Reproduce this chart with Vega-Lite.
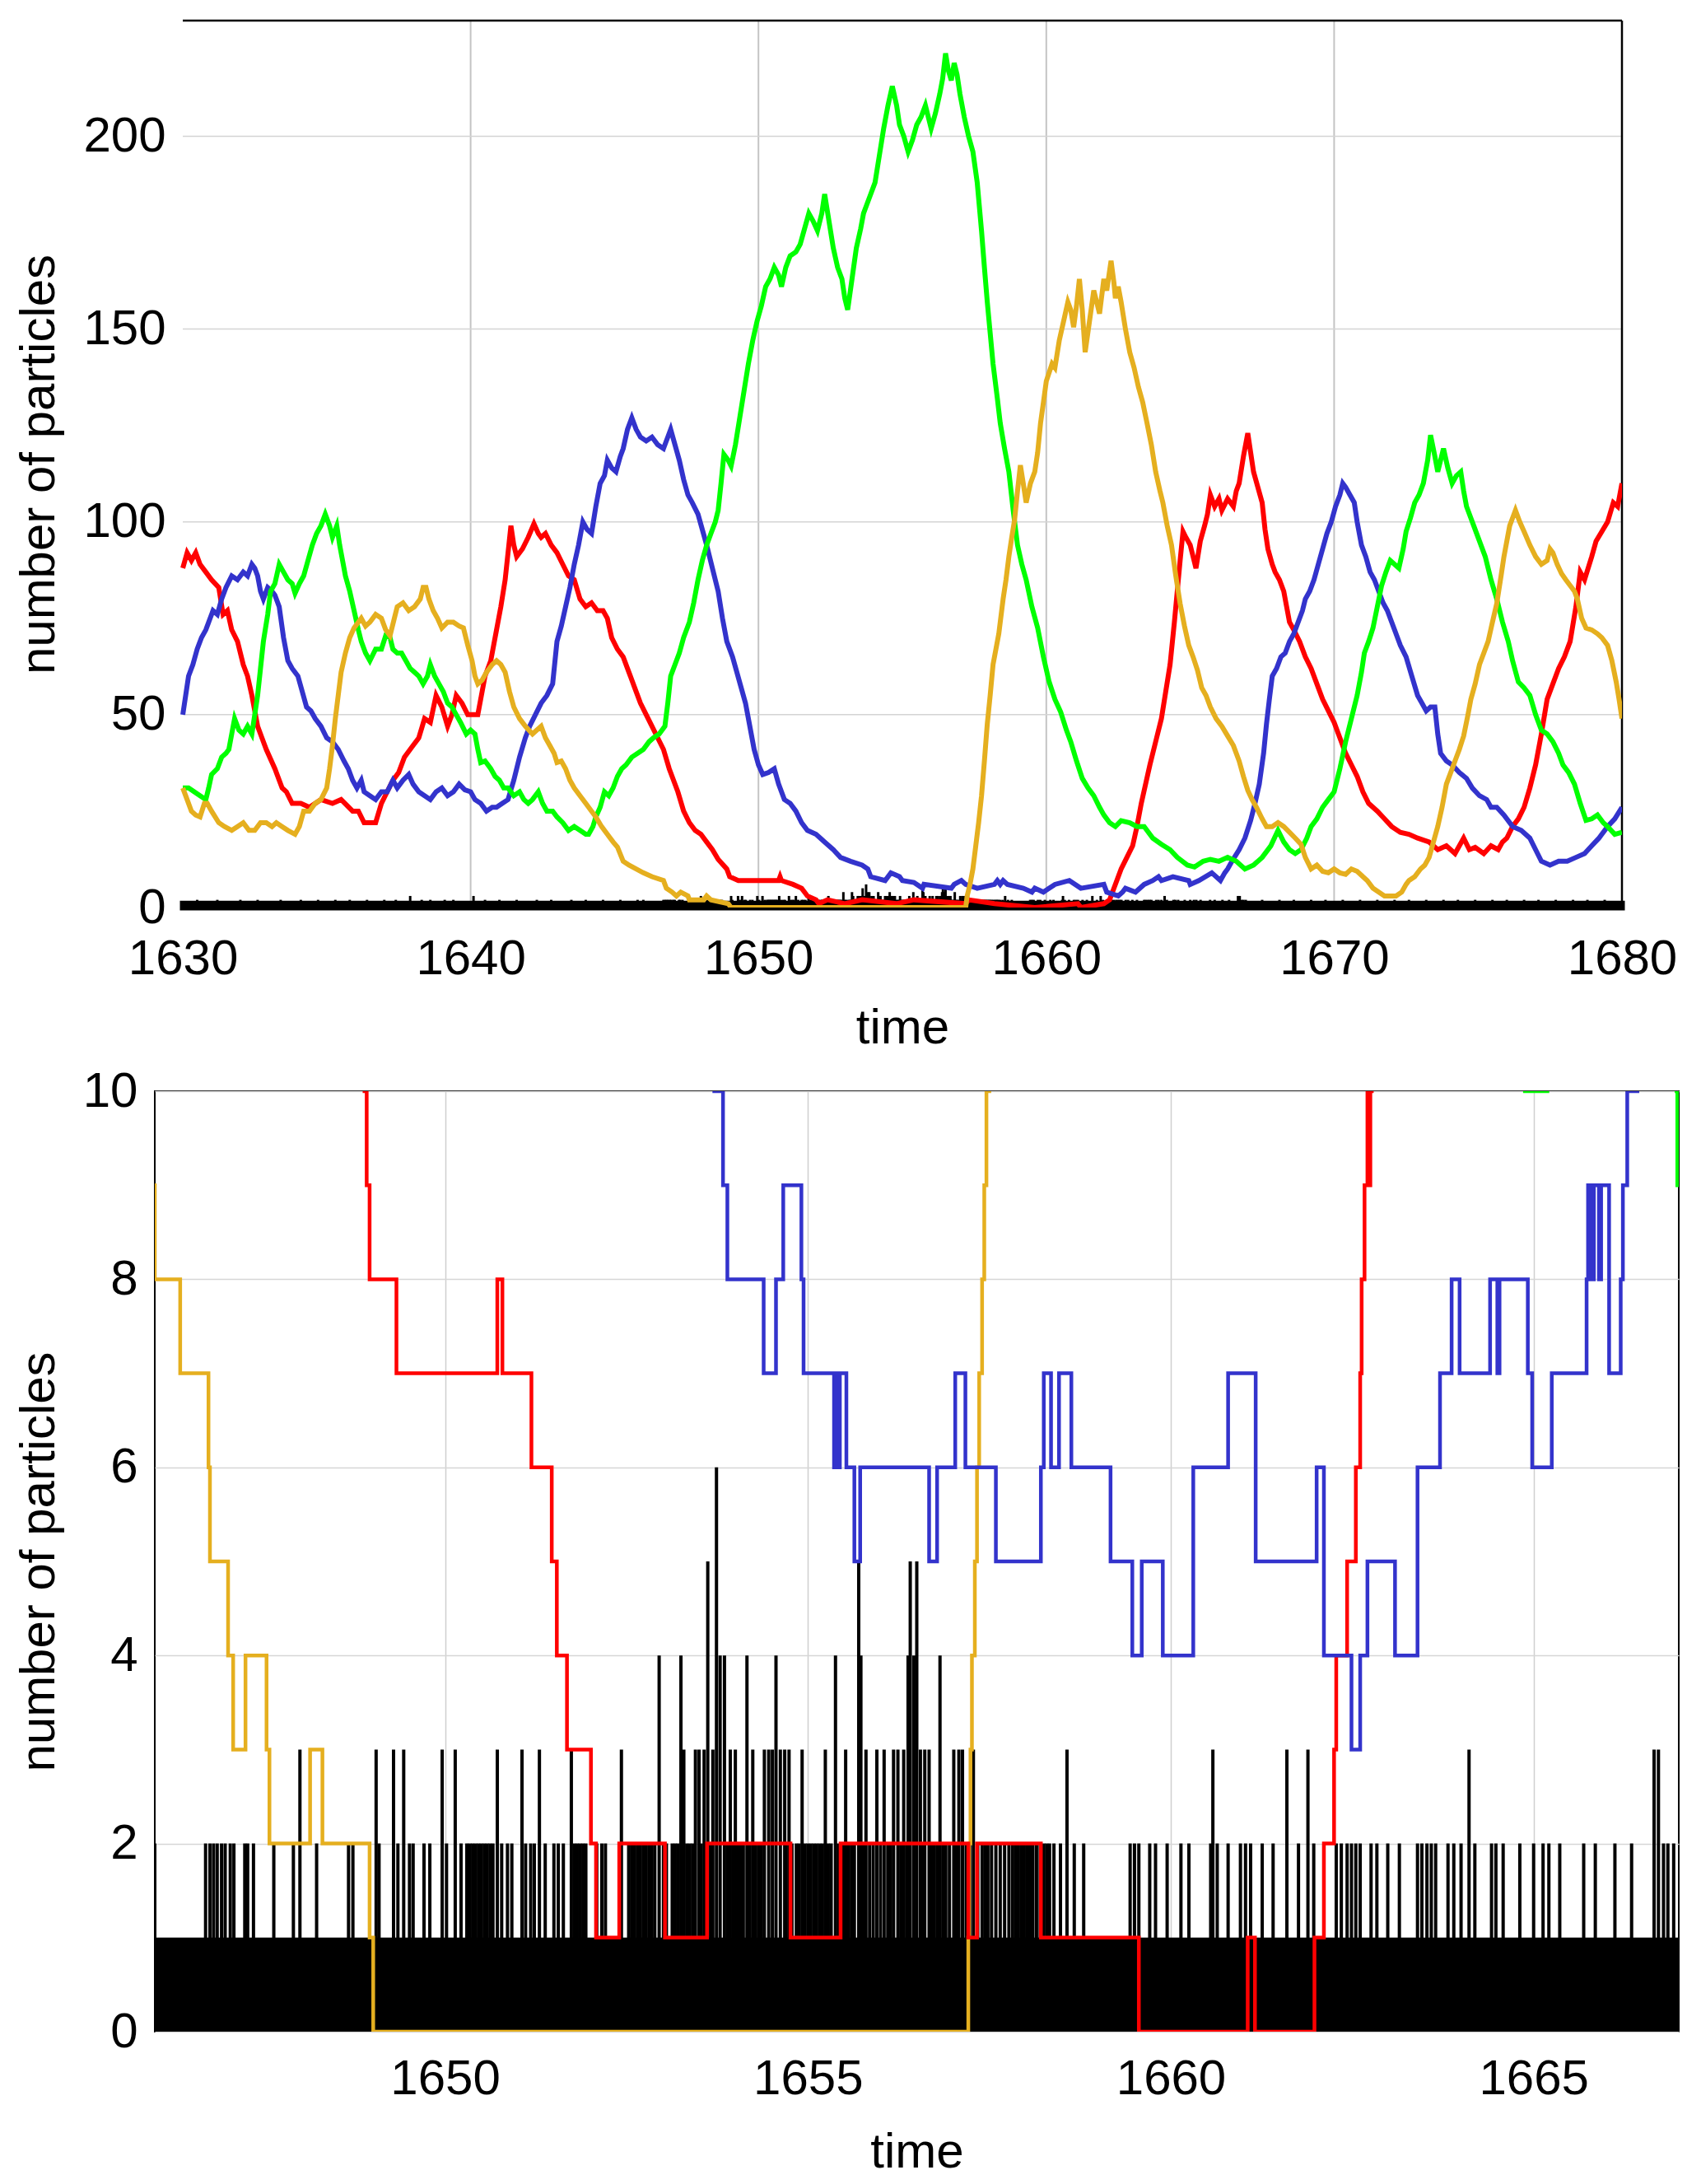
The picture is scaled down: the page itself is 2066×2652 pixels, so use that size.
{
"$schema": "https://vega.github.io/schema/vega-lite/v6.json",
"background": "white",
"padding": {"left": 16, "top": 23, "right": 20, "bottom": 0},
"config": {
  "font": "Liberation Sans",
  "view": {"stroke": "#000000", "strokeWidth": 2},
  "axis": {"labelFont": "Liberation Sans", "titleFont": "Liberation Sans", "labelFontSize": 60, "titleFontSize": 60, "titleFontWeight": "normal", "labelColor": "#000000", "titleColor": "#000000", "domain": false, "ticks": false, "gridColor": "#cccccc", "gridWidth": 1.5, "labelFlush": false, "labelOverlap": false},
  "axisX": {"labelPadding": 28, "titlePadding": 30},
  "axisY": {"labelPadding": 21, "titlePadding": 22}
},
"datasets": {
  "base": [{"t": 1630, "v": 1}, {"t": 1680, "v": 1}],
  "xgrid": [{"g": 1640}, {"g": 1650}, {"g": 1660}, {"g": 1670}],
  "ygrid": [{"g": 50}, {"g": 100}, {"g": 150}, {"g": 200}],
  "top": [
{"s":"red","t":1630,"v":88},{"s":"red","t":1630.15,"v":92},{"s":"red","t":1630.3,"v":90},{"s":"red","t":1630.45,"v":92},{"s":"red","t":1630.6,"v":89},{"s":"red","t":1630.8,"v":87},{"s":"red","t":1631,"v":85},{"s":"red","t":1631.25,"v":83},{"s":"red","t":1631.4,"v":76},{"s":"red","t":1631.55,"v":77},{"s":"red","t":1631.7,"v":72},{"s":"red","t":1631.9,"v":69},{"s":"red","t":1632.1,"v":63},{"s":"red","t":1632.25,"v":60},{"s":"red","t":1632.4,"v":55},{"s":"red","t":1632.6,"v":47},{"s":"red","t":1632.75,"v":44},{"s":"red","t":1632.9,"v":41},{"s":"red","t":1633.2,"v":36},{"s":"red","t":1633.45,"v":31},{"s":"red","t":1633.6,"v":30},{"s":"red","t":1633.8,"v":27},{"s":"red","t":1634.1,"v":27},{"s":"red","t":1634.4,"v":26},{"s":"red","t":1634.8,"v":28},{"s":"red","t":1635.2,"v":27},{"s":"red","t":1635.5,"v":28},{"s":"red","t":1635.9,"v":25},{"s":"red","t":1636.1,"v":25},{"s":"red","t":1636.3,"v":22},{"s":"red","t":1636.7,"v":22},{"s":"red","t":1636.9,"v":27},{"s":"red","t":1637.1,"v":30},{"s":"red","t":1637.3,"v":33},{"s":"red","t":1637.5,"v":35},{"s":"red","t":1637.7,"v":39},{"s":"red","t":1638,"v":42},{"s":"red","t":1638.2,"v":44},{"s":"red","t":1638.4,"v":49},{"s":"red","t":1638.6,"v":48},{"s":"red","t":1638.8,"v":55},{"s":"red","t":1639,"v":52},{"s":"red","t":1639.2,"v":47},{"s":"red","t":1639.35,"v":50},{"s":"red","t":1639.5,"v":55},{"s":"red","t":1639.7,"v":53},{"s":"red","t":1639.9,"v":50},{"s":"red","t":1640.25,"v":50},{"s":"red","t":1640.5,"v":60},{"s":"red","t":1640.7,"v":64},{"s":"red","t":1640.9,"v":72},{"s":"red","t":1641.05,"v":78},{"s":"red","t":1641.2,"v":85},{"s":"red","t":1641.4,"v":99},{"s":"red","t":1641.5,"v":94},{"s":"red","t":1641.6,"v":91},{"s":"red","t":1641.8,"v":93},{"s":"red","t":1642,"v":96},{"s":"red","t":1642.2,"v":99.5},{"s":"red","t":1642.35,"v":97},{"s":"red","t":1642.45,"v":96},{"s":"red","t":1642.6,"v":97},{"s":"red","t":1642.8,"v":94},{"s":"red","t":1643,"v":92},{"s":"red","t":1643.2,"v":89},{"s":"red","t":1643.4,"v":86},{"s":"red","t":1643.6,"v":85},{"s":"red","t":1643.8,"v":80},{"s":"red","t":1644,"v":78},{"s":"red","t":1644.2,"v":79},{"s":"red","t":1644.4,"v":77},{"s":"red","t":1644.6,"v":77},{"s":"red","t":1644.75,"v":75},{"s":"red","t":1644.9,"v":70},{"s":"red","t":1645.1,"v":67},{"s":"red","t":1645.3,"v":65},{"s":"red","t":1645.5,"v":61},{"s":"red","t":1645.7,"v":57},{"s":"red","t":1645.9,"v":53},{"s":"red","t":1646.1,"v":50},{"s":"red","t":1646.3,"v":47},{"s":"red","t":1646.5,"v":44},{"s":"red","t":1646.7,"v":41},{"s":"red","t":1646.9,"v":36},{"s":"red","t":1647.05,"v":33},{"s":"red","t":1647.2,"v":30},{"s":"red","t":1647.4,"v":25},{"s":"red","t":1647.6,"v":22},{"s":"red","t":1647.8,"v":20},{"s":"red","t":1648,"v":19},{"s":"red","t":1648.2,"v":17},{"s":"red","t":1648.4,"v":15},{"s":"red","t":1648.6,"v":12.5},{"s":"red","t":1648.9,"v":10},{"s":"red","t":1649,"v":8},{"s":"red","t":1649.3,"v":7},{"s":"red","t":1650.7,"v":7},{"s":"red","t":1650.75,"v":8},{"s":"red","t":1650.8,"v":7},{"s":"red","t":1651.2,"v":6},{"s":"red","t":1651.5,"v":5},{"s":"red","t":1651.6,"v":4},{"s":"red","t":1651.7,"v":3},{"s":"red","t":1652,"v":2},{"s":"red","t":1652.1,"v":1},{"s":"red","t":1652.4,"v":2},{"s":"red","t":1653,"v":1},{"s":"red","t":1653.6,"v":2},{"s":"red","t":1654.8,"v":1},{"s":"red","t":1655.4,"v":2},{"s":"red","t":1657.2,"v":1},{"s":"red","t":1657.3,"v":2},{"s":"red","t":1658.2,"v":1},{"s":"red","t":1659.6,"v":0},{"s":"red","t":1661.1,"v":1},{"s":"red","t":1661.2,"v":0},{"s":"red","t":1662,"v":1},{"s":"red","t":1662.2,"v":2},{"s":"red","t":1662.3,"v":4},{"s":"red","t":1662.45,"v":7},{"s":"red","t":1662.6,"v":10},{"s":"red","t":1662.8,"v":13},{"s":"red","t":1663,"v":16},{"s":"red","t":1663.15,"v":21},{"s":"red","t":1663.3,"v":27},{"s":"red","t":1663.45,"v":32},{"s":"red","t":1663.6,"v":37},{"s":"red","t":1663.8,"v":43},{"s":"red","t":1664,"v":49},{"s":"red","t":1664.15,"v":56},{"s":"red","t":1664.3,"v":63},{"s":"red","t":1664.45,"v":74},{"s":"red","t":1664.55,"v":82},{"s":"red","t":1664.65,"v":90},{"s":"red","t":1664.75,"v":97.5},{"s":"red","t":1664.85,"v":96},{"s":"red","t":1665,"v":94},{"s":"red","t":1665.1,"v":91},{"s":"red","t":1665.2,"v":88},{"s":"red","t":1665.35,"v":95},{"s":"red","t":1665.5,"v":99},{"s":"red","t":1665.6,"v":102},{"s":"red","t":1665.7,"v":107},{"s":"red","t":1665.85,"v":104},{"s":"red","t":1666,"v":106},{"s":"red","t":1666.1,"v":103},{"s":"red","t":1666.3,"v":106},{"s":"red","t":1666.5,"v":104},{"s":"red","t":1666.6,"v":108},{"s":"red","t":1666.7,"v":110},{"s":"red","t":1666.85,"v":117},{"s":"red","t":1667,"v":123},{"s":"red","t":1667.1,"v":118},{"s":"red","t":1667.2,"v":113},{"s":"red","t":1667.35,"v":109},{"s":"red","t":1667.5,"v":105},{"s":"red","t":1667.6,"v":98},{"s":"red","t":1667.7,"v":93},{"s":"red","t":1667.85,"v":89},{"s":"red","t":1667.95,"v":87},{"s":"red","t":1668.1,"v":85},{"s":"red","t":1668.25,"v":82},{"s":"red","t":1668.35,"v":78},{"s":"red","t":1668.45,"v":74},{"s":"red","t":1668.6,"v":72},{"s":"red","t":1668.8,"v":69},{"s":"red","t":1669,"v":65},{"s":"red","t":1669.2,"v":62},{"s":"red","t":1669.4,"v":58},{"s":"red","t":1669.6,"v":54},{"s":"red","t":1669.8,"v":51},{"s":"red","t":1670,"v":48},{"s":"red","t":1670.2,"v":44},{"s":"red","t":1670.4,"v":40},{"s":"red","t":1670.6,"v":37},{"s":"red","t":1670.8,"v":34},{"s":"red","t":1671,"v":30},{"s":"red","t":1671.2,"v":27},{"s":"red","t":1671.5,"v":25},{"s":"red","t":1671.75,"v":23},{"s":"red","t":1672,"v":21},{"s":"red","t":1672.3,"v":19.5},{"s":"red","t":1672.6,"v":19},{"s":"red","t":1672.9,"v":18},{"s":"red","t":1673.3,"v":17},{"s":"red","t":1673.6,"v":15},{"s":"red","t":1673.9,"v":16},{"s":"red","t":1674.2,"v":14},{"s":"red","t":1674.5,"v":18},{"s":"red","t":1674.7,"v":15},{"s":"red","t":1674.9,"v":15.6},{"s":"red","t":1675.2,"v":14},{"s":"red","t":1675.45,"v":16},{"s":"red","t":1675.7,"v":15},{"s":"red","t":1675.85,"v":17},{"s":"red","t":1676,"v":18},{"s":"red","t":1676.2,"v":21},{"s":"red","t":1676.4,"v":23},{"s":"red","t":1676.6,"v":26},{"s":"red","t":1676.8,"v":31},{"s":"red","t":1677,"v":37},{"s":"red","t":1677.2,"v":45},{"s":"red","t":1677.4,"v":54},{"s":"red","t":1677.6,"v":58},{"s":"red","t":1677.8,"v":62},{"s":"red","t":1678,"v":65},{"s":"red","t":1678.2,"v":69},{"s":"red","t":1678.4,"v":78},{"s":"red","t":1678.55,"v":87},{"s":"red","t":1678.7,"v":85},{"s":"red","t":1678.95,"v":91},{"s":"red","t":1679.1,"v":95},{"s":"red","t":1679.3,"v":97.5},{"s":"red","t":1679.5,"v":100},{"s":"red","t":1679.7,"v":105},{"s":"red","t":1679.85,"v":104},{"s":"red","t":1680,"v":110},
{"s":"blue","t":1630,"v":50},{"s":"blue","t":1630.1,"v":55},{"s":"blue","t":1630.2,"v":60},{"s":"blue","t":1630.35,"v":63},{"s":"blue","t":1630.5,"v":67},{"s":"blue","t":1630.65,"v":70},{"s":"blue","t":1630.8,"v":72},{"s":"blue","t":1630.95,"v":75},{"s":"blue","t":1631.05,"v":77},{"s":"blue","t":1631.2,"v":76},{"s":"blue","t":1631.35,"v":80},{"s":"blue","t":1631.5,"v":83},{"s":"blue","t":1631.7,"v":86},{"s":"blue","t":1631.9,"v":85},{"s":"blue","t":1632.1,"v":87},{"s":"blue","t":1632.25,"v":86},{"s":"blue","t":1632.4,"v":89},{"s":"blue","t":1632.5,"v":88},{"s":"blue","t":1632.6,"v":86},{"s":"blue","t":1632.7,"v":82},{"s":"blue","t":1632.8,"v":80},{"s":"blue","t":1632.95,"v":83},{"s":"blue","t":1633.1,"v":82},{"s":"blue","t":1633.2,"v":81},{"s":"blue","t":1633.35,"v":78},{"s":"blue","t":1633.5,"v":70},{"s":"blue","t":1633.65,"v":64},{"s":"blue","t":1633.8,"v":62},{"s":"blue","t":1634,"v":60},{"s":"blue","t":1634.15,"v":56},{"s":"blue","t":1634.3,"v":52},{"s":"blue","t":1634.45,"v":51},{"s":"blue","t":1634.6,"v":49},{"s":"blue","t":1634.8,"v":47},{"s":"blue","t":1635,"v":44},{"s":"blue","t":1635.2,"v":43},{"s":"blue","t":1635.4,"v":41},{"s":"blue","t":1635.6,"v":38},{"s":"blue","t":1635.75,"v":36},{"s":"blue","t":1635.9,"v":33},{"s":"blue","t":1636.05,"v":31},{"s":"blue","t":1636.2,"v":33},{"s":"blue","t":1636.3,"v":30},{"s":"blue","t":1636.5,"v":29},{"s":"blue","t":1636.7,"v":28},{"s":"blue","t":1636.9,"v":30},{"s":"blue","t":1637.1,"v":30},{"s":"blue","t":1637.3,"v":33},{"s":"blue","t":1637.45,"v":31},{"s":"blue","t":1637.65,"v":33},{"s":"blue","t":1637.85,"v":34.5},{"s":"blue","t":1638,"v":32},{"s":"blue","t":1638.2,"v":30},{"s":"blue","t":1638.4,"v":29},{"s":"blue","t":1638.6,"v":28},{"s":"blue","t":1638.8,"v":30},{"s":"blue","t":1639,"v":31},{"s":"blue","t":1639.2,"v":29},{"s":"blue","t":1639.4,"v":30},{"s":"blue","t":1639.6,"v":32},{"s":"blue","t":1639.8,"v":30.5},{"s":"blue","t":1640,"v":30},{"s":"blue","t":1640.15,"v":28},{"s":"blue","t":1640.35,"v":27},{"s":"blue","t":1640.55,"v":25},{"s":"blue","t":1640.75,"v":26},{"s":"blue","t":1640.9,"v":26},{"s":"blue","t":1641.1,"v":27},{"s":"blue","t":1641.3,"v":28},{"s":"blue","t":1641.5,"v":33},{"s":"blue","t":1641.7,"v":39},{"s":"blue","t":1641.9,"v":44},{"s":"blue","t":1642.05,"v":47},{"s":"blue","t":1642.25,"v":50},{"s":"blue","t":1642.45,"v":53},{"s":"blue","t":1642.65,"v":55},{"s":"blue","t":1642.85,"v":58},{"s":"blue","t":1643,"v":69},{"s":"blue","t":1643.15,"v":73},{"s":"blue","t":1643.3,"v":78},{"s":"blue","t":1643.45,"v":83},{"s":"blue","t":1643.6,"v":89},{"s":"blue","t":1643.75,"v":94},{"s":"blue","t":1643.9,"v":100},{"s":"blue","t":1644.05,"v":98},{"s":"blue","t":1644.2,"v":97},{"s":"blue","t":1644.35,"v":104},{"s":"blue","t":1644.5,"v":110},{"s":"blue","t":1644.65,"v":112},{"s":"blue","t":1644.75,"v":116},{"s":"blue","t":1644.9,"v":114},{"s":"blue","t":1645.05,"v":113},{"s":"blue","t":1645.2,"v":117},{"s":"blue","t":1645.3,"v":119},{"s":"blue","t":1645.45,"v":124},{"s":"blue","t":1645.6,"v":127},{"s":"blue","t":1645.75,"v":124},{"s":"blue","t":1645.9,"v":122},{"s":"blue","t":1646.1,"v":121},{"s":"blue","t":1646.3,"v":122},{"s":"blue","t":1646.5,"v":120},{"s":"blue","t":1646.7,"v":119},{"s":"blue","t":1646.85,"v":122},{"s":"blue","t":1646.95,"v":124},{"s":"blue","t":1647.1,"v":120},{"s":"blue","t":1647.25,"v":116},{"s":"blue","t":1647.4,"v":111},{"s":"blue","t":1647.55,"v":107},{"s":"blue","t":1647.7,"v":105},{"s":"blue","t":1647.9,"v":102},{"s":"blue","t":1648.05,"v":98},{"s":"blue","t":1648.2,"v":94},{"s":"blue","t":1648.4,"v":88},{"s":"blue","t":1648.6,"v":82},{"s":"blue","t":1648.75,"v":75},{"s":"blue","t":1648.9,"v":69},{"s":"blue","t":1649.1,"v":65},{"s":"blue","t":1649.25,"v":61},{"s":"blue","t":1649.4,"v":57},{"s":"blue","t":1649.55,"v":53},{"s":"blue","t":1649.7,"v":47},{"s":"blue","t":1649.85,"v":41},{"s":"blue","t":1650,"v":37},{"s":"blue","t":1650.15,"v":34.5},{"s":"blue","t":1650.35,"v":35},{"s":"blue","t":1650.55,"v":36},{"s":"blue","t":1650.7,"v":32},{"s":"blue","t":1650.9,"v":28},{"s":"blue","t":1651.1,"v":27},{"s":"blue","t":1651.3,"v":25},{"s":"blue","t":1651.5,"v":22},{"s":"blue","t":1651.7,"v":20},{"s":"blue","t":1652,"v":19},{"s":"blue","t":1652.3,"v":17},{"s":"blue","t":1652.6,"v":15},{"s":"blue","t":1652.85,"v":13},{"s":"blue","t":1653.2,"v":12},{"s":"blue","t":1653.6,"v":11},{"s":"blue","t":1653.8,"v":10},{"s":"blue","t":1653.9,"v":8},{"s":"blue","t":1654.4,"v":7},{"s":"blue","t":1654.6,"v":9},{"s":"blue","t":1654.9,"v":8},{"s":"blue","t":1655,"v":7},{"s":"blue","t":1655.4,"v":6.5},{"s":"blue","t":1655.7,"v":5},{"s":"blue","t":1655.75,"v":6},{"s":"blue","t":1656.7,"v":5},{"s":"blue","t":1656.8,"v":6},{"s":"blue","t":1657.05,"v":7},{"s":"blue","t":1657.2,"v":6},{"s":"blue","t":1657.6,"v":5},{"s":"blue","t":1658.2,"v":6},{"s":"blue","t":1658.3,"v":7},{"s":"blue","t":1658.4,"v":6},{"s":"blue","t":1658.5,"v":7},{"s":"blue","t":1658.65,"v":6},{"s":"blue","t":1659.2,"v":5},{"s":"blue","t":1659.5,"v":4},{"s":"blue","t":1659.6,"v":5},{"s":"blue","t":1659.9,"v":4},{"s":"blue","t":1660.3,"v":6},{"s":"blue","t":1660.8,"v":7},{"s":"blue","t":1661.2,"v":5},{"s":"blue","t":1662,"v":6},{"s":"blue","t":1662.1,"v":4},{"s":"blue","t":1662.5,"v":3},{"s":"blue","t":1662.65,"v":4},{"s":"blue","t":1662.75,"v":5},{"s":"blue","t":1663.1,"v":4},{"s":"blue","t":1663.4,"v":6},{"s":"blue","t":1663.7,"v":7},{"s":"blue","t":1663.9,"v":8},{"s":"blue","t":1664,"v":7},{"s":"blue","t":1664.4,"v":8},{"s":"blue","t":1664.95,"v":7},{"s":"blue","t":1665,"v":6},{"s":"blue","t":1665.3,"v":7},{"s":"blue","t":1665.75,"v":9},{"s":"blue","t":1666.05,"v":7},{"s":"blue","t":1666.2,"v":9},{"s":"blue","t":1666.3,"v":10},{"s":"blue","t":1666.45,"v":12},{"s":"blue","t":1666.7,"v":15},{"s":"blue","t":1666.9,"v":18},{"s":"blue","t":1667.1,"v":22.6},{"s":"blue","t":1667.25,"v":27},{"s":"blue","t":1667.4,"v":32},{"s":"blue","t":1667.55,"v":40},{"s":"blue","t":1667.65,"v":47.6},{"s":"blue","t":1667.75,"v":54},{"s":"blue","t":1667.85,"v":60},{"s":"blue","t":1668,"v":62},{"s":"blue","t":1668.15,"v":65},{"s":"blue","t":1668.3,"v":66},{"s":"blue","t":1668.45,"v":69},{"s":"blue","t":1668.6,"v":71},{"s":"blue","t":1668.75,"v":74},{"s":"blue","t":1668.9,"v":77},{"s":"blue","t":1669,"v":80},{"s":"blue","t":1669.15,"v":82},{"s":"blue","t":1669.3,"v":85},{"s":"blue","t":1669.45,"v":89},{"s":"blue","t":1669.6,"v":93},{"s":"blue","t":1669.75,"v":97},{"s":"blue","t":1669.9,"v":100},{"s":"blue","t":1670.05,"v":104},{"s":"blue","t":1670.2,"v":107},{"s":"blue","t":1670.3,"v":110},{"s":"blue","t":1670.4,"v":109},{"s":"blue","t":1670.55,"v":107},{"s":"blue","t":1670.7,"v":105},{"s":"blue","t":1670.8,"v":100},{"s":"blue","t":1670.95,"v":94},{"s":"blue","t":1671.1,"v":91},{"s":"blue","t":1671.25,"v":87},{"s":"blue","t":1671.4,"v":85},{"s":"blue","t":1671.55,"v":82},{"s":"blue","t":1671.7,"v":79},{"s":"blue","t":1671.85,"v":77},{"s":"blue","t":1672,"v":74},{"s":"blue","t":1672.15,"v":71},{"s":"blue","t":1672.3,"v":68},{"s":"blue","t":1672.5,"v":65},{"s":"blue","t":1672.7,"v":60},{"s":"blue","t":1672.9,"v":55},{"s":"blue","t":1673.05,"v":53},{"s":"blue","t":1673.2,"v":51},{"s":"blue","t":1673.35,"v":52},{"s":"blue","t":1673.5,"v":52},{"s":"blue","t":1673.6,"v":45},{"s":"blue","t":1673.7,"v":40},{"s":"blue","t":1673.9,"v":38},{"s":"blue","t":1674.1,"v":37},{"s":"blue","t":1674.35,"v":35},{"s":"blue","t":1674.6,"v":33.5},{"s":"blue","t":1674.8,"v":31},{"s":"blue","t":1675.05,"v":29},{"s":"blue","t":1675.3,"v":28},{"s":"blue","t":1675.45,"v":26},{"s":"blue","t":1675.65,"v":26},{"s":"blue","t":1675.9,"v":24},{"s":"blue","t":1676.2,"v":21},{"s":"blue","t":1676.5,"v":20},{"s":"blue","t":1676.8,"v":18},{"s":"blue","t":1677,"v":15},{"s":"blue","t":1677.2,"v":12},{"s":"blue","t":1677.5,"v":11},{"s":"blue","t":1677.8,"v":12},{"s":"blue","t":1678.1,"v":12},{"s":"blue","t":1678.4,"v":13},{"s":"blue","t":1678.7,"v":14},{"s":"blue","t":1678.95,"v":16},{"s":"blue","t":1679.2,"v":18},{"s":"blue","t":1679.5,"v":21},{"s":"blue","t":1679.75,"v":23},{"s":"blue","t":1680,"v":26},
{"s":"green","t":1630,"v":31},{"s":"green","t":1630.2,"v":31},{"s":"green","t":1630.4,"v":30},{"s":"green","t":1630.6,"v":29},{"s":"green","t":1630.8,"v":28},{"s":"green","t":1630.9,"v":31},{"s":"green","t":1631,"v":34.5},{"s":"green","t":1631.2,"v":36},{"s":"green","t":1631.35,"v":39},{"s":"green","t":1631.5,"v":40},{"s":"green","t":1631.6,"v":41},{"s":"green","t":1631.7,"v":45},{"s":"green","t":1631.8,"v":49},{"s":"green","t":1631.95,"v":46},{"s":"green","t":1632.1,"v":45},{"s":"green","t":1632.25,"v":47},{"s":"green","t":1632.4,"v":45},{"s":"green","t":1632.5,"v":50},{"s":"green","t":1632.6,"v":55},{"s":"green","t":1632.7,"v":62},{"s":"green","t":1632.8,"v":69},{"s":"green","t":1632.95,"v":76},{"s":"green","t":1633.05,"v":82},{"s":"green","t":1633.2,"v":84},{"s":"green","t":1633.35,"v":89},{"s":"green","t":1633.5,"v":87},{"s":"green","t":1633.65,"v":85},{"s":"green","t":1633.8,"v":84},{"s":"green","t":1633.9,"v":81.5},{"s":"green","t":1634.05,"v":84},{"s":"green","t":1634.2,"v":86},{"s":"green","t":1634.35,"v":90},{"s":"green","t":1634.5,"v":94},{"s":"green","t":1634.65,"v":97},{"s":"green","t":1634.8,"v":99},{"s":"green","t":1634.95,"v":102},{"s":"green","t":1635.1,"v":99},{"s":"green","t":1635.2,"v":96},{"s":"green","t":1635.35,"v":99},{"s":"green","t":1635.45,"v":94},{"s":"green","t":1635.55,"v":90},{"s":"green","t":1635.65,"v":86},{"s":"green","t":1635.8,"v":82},{"s":"green","t":1635.95,"v":77},{"s":"green","t":1636.1,"v":72},{"s":"green","t":1636.2,"v":69},{"s":"green","t":1636.35,"v":66},{"s":"green","t":1636.5,"v":64},{"s":"green","t":1636.7,"v":67},{"s":"green","t":1636.9,"v":67},{"s":"green","t":1637.05,"v":70.5},{"s":"green","t":1637.2,"v":70},{"s":"green","t":1637.3,"v":67},{"s":"green","t":1637.45,"v":66},{"s":"green","t":1637.6,"v":66},{"s":"green","t":1637.75,"v":64},{"s":"green","t":1637.9,"v":62},{"s":"green","t":1638.05,"v":61},{"s":"green","t":1638.2,"v":60},{"s":"green","t":1638.35,"v":58},{"s":"green","t":1638.5,"v":60},{"s":"green","t":1638.6,"v":63},{"s":"green","t":1638.75,"v":60},{"s":"green","t":1638.9,"v":58},{"s":"green","t":1639.05,"v":56},{"s":"green","t":1639.2,"v":53},{"s":"green","t":1639.35,"v":52},{"s":"green","t":1639.5,"v":50},{"s":"green","t":1639.65,"v":48},{"s":"green","t":1639.85,"v":45},{"s":"green","t":1640,"v":46},{"s":"green","t":1640.15,"v":45},{"s":"green","t":1640.25,"v":41},{"s":"green","t":1640.35,"v":37.6},{"s":"green","t":1640.5,"v":38},{"s":"green","t":1640.7,"v":36},{"s":"green","t":1640.85,"v":34},{"s":"green","t":1641,"v":33},{"s":"green","t":1641.15,"v":31},{"s":"green","t":1641.3,"v":31},{"s":"green","t":1641.5,"v":29},{"s":"green","t":1641.7,"v":30},{"s":"green","t":1641.85,"v":28},{"s":"green","t":1642,"v":27},{"s":"green","t":1642.15,"v":28},{"s":"green","t":1642.35,"v":30},{"s":"green","t":1642.5,"v":27},{"s":"green","t":1642.65,"v":25},{"s":"green","t":1642.85,"v":25},{"s":"green","t":1643,"v":23.5},{"s":"green","t":1643.2,"v":22},{"s":"green","t":1643.4,"v":20},{"s":"green","t":1643.6,"v":21},{"s":"green","t":1643.8,"v":20},{"s":"green","t":1644,"v":19},{"s":"green","t":1644.1,"v":19},{"s":"green","t":1644.25,"v":21},{"s":"green","t":1644.35,"v":23.5},{"s":"green","t":1644.5,"v":26},{"s":"green","t":1644.65,"v":30},{"s":"green","t":1644.8,"v":29},{"s":"green","t":1644.95,"v":31},{"s":"green","t":1645.1,"v":34},{"s":"green","t":1645.25,"v":36},{"s":"green","t":1645.4,"v":37},{"s":"green","t":1645.6,"v":39},{"s":"green","t":1645.8,"v":40},{"s":"green","t":1646,"v":41},{"s":"green","t":1646.2,"v":43},{"s":"green","t":1646.35,"v":44},{"s":"green","t":1646.55,"v":45},{"s":"green","t":1646.75,"v":47},{"s":"green","t":1646.85,"v":53},{"s":"green","t":1646.95,"v":60},{"s":"green","t":1647.1,"v":63},{"s":"green","t":1647.25,"v":66},{"s":"green","t":1647.4,"v":70},{"s":"green","t":1647.6,"v":74},{"s":"green","t":1647.75,"v":79},{"s":"green","t":1647.9,"v":85},{"s":"green","t":1648.05,"v":90},{"s":"green","t":1648.2,"v":94},{"s":"green","t":1648.35,"v":97},{"s":"green","t":1648.5,"v":100},{"s":"green","t":1648.6,"v":103},{"s":"green","t":1648.7,"v":110},{"s":"green","t":1648.8,"v":117.5},{"s":"green","t":1648.95,"v":116},{"s":"green","t":1649.05,"v":114.5},{"s":"green","t":1649.2,"v":120},{"s":"green","t":1649.35,"v":127},{"s":"green","t":1649.5,"v":134},{"s":"green","t":1649.65,"v":141},{"s":"green","t":1649.8,"v":147},{"s":"green","t":1649.95,"v":152},{"s":"green","t":1650.1,"v":156},{"s":"green","t":1650.25,"v":161},{"s":"green","t":1650.4,"v":163},{"s":"green","t":1650.55,"v":166},{"s":"green","t":1650.7,"v":164},{"s":"green","t":1650.8,"v":161},{"s":"green","t":1650.95,"v":166},{"s":"green","t":1651.1,"v":169},{"s":"green","t":1651.3,"v":170},{"s":"green","t":1651.45,"v":172},{"s":"green","t":1651.6,"v":176},{"s":"green","t":1651.75,"v":180},{"s":"green","t":1651.9,"v":178},{"s":"green","t":1652.05,"v":175.5},{"s":"green","t":1652.2,"v":180},{"s":"green","t":1652.3,"v":185},{"s":"green","t":1652.45,"v":178},{"s":"green","t":1652.6,"v":171},{"s":"green","t":1652.75,"v":166},{"s":"green","t":1652.9,"v":163},{"s":"green","t":1653,"v":158},{"s":"green","t":1653.1,"v":155},{"s":"green","t":1653.25,"v":163},{"s":"green","t":1653.4,"v":171},{"s":"green","t":1653.55,"v":176},{"s":"green","t":1653.65,"v":180},{"s":"green","t":1653.75,"v":182},{"s":"green","t":1653.9,"v":185},{"s":"green","t":1654.05,"v":188},{"s":"green","t":1654.2,"v":195},{"s":"green","t":1654.35,"v":202},{"s":"green","t":1654.5,"v":208},{"s":"green","t":1654.65,"v":213},{"s":"green","t":1654.8,"v":208},{"s":"green","t":1654.9,"v":203},{"s":"green","t":1655.05,"v":200},{"s":"green","t":1655.2,"v":196},{"s":"green","t":1655.35,"v":199},{"s":"green","t":1655.5,"v":203},{"s":"green","t":1655.65,"v":205},{"s":"green","t":1655.8,"v":208},{"s":"green","t":1655.9,"v":205},{"s":"green","t":1656,"v":202},{"s":"green","t":1656.15,"v":206},{"s":"green","t":1656.3,"v":211},{"s":"green","t":1656.4,"v":215},{"s":"green","t":1656.5,"v":221.5},{"s":"green","t":1656.6,"v":217},{"s":"green","t":1656.7,"v":214.5},{"s":"green","t":1656.8,"v":219},{"s":"green","t":1656.9,"v":216},{"s":"green","t":1657,"v":211},{"s":"green","t":1657.15,"v":205},{"s":"green","t":1657.3,"v":200},{"s":"green","t":1657.45,"v":196},{"s":"green","t":1657.6,"v":188},{"s":"green","t":1657.75,"v":175.5},{"s":"green","t":1657.85,"v":166},{"s":"green","t":1657.95,"v":157},{"s":"green","t":1658.05,"v":149},{"s":"green","t":1658.15,"v":141},{"s":"green","t":1658.3,"v":132},{"s":"green","t":1658.4,"v":125.6},{"s":"green","t":1658.55,"v":119},{"s":"green","t":1658.7,"v":113},{"s":"green","t":1658.85,"v":103},{"s":"green","t":1659,"v":94},{"s":"green","t":1659.15,"v":89},{"s":"green","t":1659.3,"v":85},{"s":"green","t":1659.5,"v":78},{"s":"green","t":1659.7,"v":72.5},{"s":"green","t":1659.9,"v":65},{"s":"green","t":1660.1,"v":58.5},{"s":"green","t":1660.3,"v":54},{"s":"green","t":1660.5,"v":50.7},{"s":"green","t":1660.7,"v":46},{"s":"green","t":1660.85,"v":43},{"s":"green","t":1661.05,"v":38},{"s":"green","t":1661.25,"v":33.5},{"s":"green","t":1661.45,"v":31},{"s":"green","t":1661.65,"v":29},{"s":"green","t":1661.85,"v":26},{"s":"green","t":1662,"v":24},{"s":"green","t":1662.2,"v":22},{"s":"green","t":1662.4,"v":21},{"s":"green","t":1662.6,"v":22.5},{"s":"green","t":1662.9,"v":22},{"s":"green","t":1663.15,"v":21},{"s":"green","t":1663.4,"v":21},{"s":"green","t":1663.7,"v":18},{"s":"green","t":1664,"v":16.4},{"s":"green","t":1664.3,"v":15},{"s":"green","t":1664.55,"v":13},{"s":"green","t":1664.9,"v":11},{"s":"green","t":1665.15,"v":10.5},{"s":"green","t":1665.45,"v":12},{"s":"green","t":1665.7,"v":12.5},{"s":"green","t":1666,"v":12},{"s":"green","t":1666.3,"v":13},{"s":"green","t":1666.6,"v":12},{"s":"green","t":1666.9,"v":10},{"s":"green","t":1667.2,"v":11},{"s":"green","t":1667.5,"v":13},{"s":"green","t":1667.8,"v":16},{"s":"green","t":1668.05,"v":20},{"s":"green","t":1668.25,"v":17},{"s":"green","t":1668.45,"v":15},{"s":"green","t":1668.65,"v":14},{"s":"green","t":1668.85,"v":15},{"s":"green","t":1669.05,"v":18},{"s":"green","t":1669.2,"v":21},{"s":"green","t":1669.4,"v":23},{"s":"green","t":1669.6,"v":26},{"s":"green","t":1669.8,"v":28},{"s":"green","t":1670,"v":30},{"s":"green","t":1670.2,"v":36},{"s":"green","t":1670.4,"v":43},{"s":"green","t":1670.6,"v":49},{"s":"green","t":1670.8,"v":55},{"s":"green","t":1670.95,"v":61},{"s":"green","t":1671.05,"v":66},{"s":"green","t":1671.2,"v":69},{"s":"green","t":1671.35,"v":72.5},{"s":"green","t":1671.5,"v":78},{"s":"green","t":1671.65,"v":83.5},{"s":"green","t":1671.8,"v":87},{"s":"green","t":1671.95,"v":90},{"s":"green","t":1672.1,"v":89},{"s":"green","t":1672.25,"v":88},{"s":"green","t":1672.4,"v":93},{"s":"green","t":1672.5,"v":97.5},{"s":"green","t":1672.65,"v":101},{"s":"green","t":1672.8,"v":105},{"s":"green","t":1672.95,"v":107},{"s":"green","t":1673.1,"v":110},{"s":"green","t":1673.25,"v":116},{"s":"green","t":1673.35,"v":122.5},{"s":"green","t":1673.5,"v":117},{"s":"green","t":1673.6,"v":113},{"s":"green","t":1673.7,"v":116},{"s":"green","t":1673.8,"v":119},{"s":"green","t":1673.95,"v":114},{"s":"green","t":1674.1,"v":110},{"s":"green","t":1674.25,"v":112},{"s":"green","t":1674.4,"v":113},{"s":"green","t":1674.5,"v":108},{"s":"green","t":1674.6,"v":104},{"s":"green","t":1674.75,"v":101},{"s":"green","t":1674.85,"v":99},{"s":"green","t":1675.05,"v":95},{"s":"green","t":1675.25,"v":91},{"s":"green","t":1675.45,"v":85},{"s":"green","t":1675.65,"v":80},{"s":"green","t":1675.85,"v":74},{"s":"green","t":1676.05,"v":69},{"s":"green","t":1676.2,"v":64},{"s":"green","t":1676.4,"v":58.5},{"s":"green","t":1676.6,"v":57},{"s":"green","t":1676.8,"v":55},{"s":"green","t":1677,"v":50},{"s":"green","t":1677.2,"v":46},{"s":"green","t":1677.4,"v":45},{"s":"green","t":1677.6,"v":43},{"s":"green","t":1677.8,"v":40},{"s":"green","t":1677.95,"v":37},{"s":"green","t":1678.15,"v":35},{"s":"green","t":1678.35,"v":32},{"s":"green","t":1678.55,"v":27},{"s":"green","t":1678.75,"v":22.6},{"s":"green","t":1678.95,"v":23},{"s":"green","t":1679.15,"v":24},{"s":"green","t":1679.35,"v":22},{"s":"green","t":1679.5,"v":21},{"s":"green","t":1679.75,"v":19},{"s":"green","t":1680,"v":19.5},
{"s":"orange","t":1630,"v":31},{"s":"orange","t":1630.15,"v":28},{"s":"orange","t":1630.3,"v":25},{"s":"orange","t":1630.45,"v":24},{"s":"orange","t":1630.6,"v":23.5},{"s":"orange","t":1630.75,"v":27},{"s":"orange","t":1630.85,"v":27},{"s":"orange","t":1631,"v":25},{"s":"orange","t":1631.25,"v":22},{"s":"orange","t":1631.45,"v":21},{"s":"orange","t":1631.7,"v":20},{"s":"orange","t":1631.9,"v":21},{"s":"orange","t":1632.1,"v":22},{"s":"orange","t":1632.3,"v":20},{"s":"orange","t":1632.5,"v":20},{"s":"orange","t":1632.7,"v":22},{"s":"orange","t":1632.9,"v":22},{"s":"orange","t":1633.1,"v":21},{"s":"orange","t":1633.25,"v":22},{"s":"orange","t":1633.45,"v":21},{"s":"orange","t":1633.65,"v":20},{"s":"orange","t":1633.9,"v":19},{"s":"orange","t":1634.05,"v":21},{"s":"orange","t":1634.2,"v":25},{"s":"orange","t":1634.4,"v":25},{"s":"orange","t":1634.6,"v":27},{"s":"orange","t":1634.8,"v":28},{"s":"orange","t":1635,"v":31},{"s":"orange","t":1635.1,"v":36},{"s":"orange","t":1635.2,"v":42},{"s":"orange","t":1635.3,"v":49},{"s":"orange","t":1635.4,"v":55},{"s":"orange","t":1635.5,"v":61},{"s":"orange","t":1635.65,"v":66},{"s":"orange","t":1635.8,"v":70},{"s":"orange","t":1635.95,"v":72.5},{"s":"orange","t":1636.1,"v":74},{"s":"orange","t":1636.2,"v":75},{"s":"orange","t":1636.35,"v":73},{"s":"orange","t":1636.5,"v":74},{"s":"orange","t":1636.7,"v":76},{"s":"orange","t":1636.9,"v":75},{"s":"orange","t":1637.05,"v":72},{"s":"orange","t":1637.2,"v":70.5},{"s":"orange","t":1637.35,"v":75},{"s":"orange","t":1637.45,"v":78},{"s":"orange","t":1637.65,"v":79},{"s":"orange","t":1637.85,"v":77},{"s":"orange","t":1638.05,"v":78},{"s":"orange","t":1638.25,"v":80},{"s":"orange","t":1638.35,"v":83},{"s":"orange","t":1638.45,"v":83},{"s":"orange","t":1638.55,"v":80},{"s":"orange","t":1638.7,"v":77},{"s":"orange","t":1638.85,"v":75},{"s":"orange","t":1639,"v":72.5},{"s":"orange","t":1639.2,"v":74},{"s":"orange","t":1639.4,"v":74},{"s":"orange","t":1639.6,"v":73},{"s":"orange","t":1639.75,"v":72.5},{"s":"orange","t":1639.9,"v":68},{"s":"orange","t":1640.05,"v":64},{"s":"orange","t":1640.15,"v":60},{"s":"orange","t":1640.25,"v":58},{"s":"orange","t":1640.4,"v":59},{"s":"orange","t":1640.55,"v":61},{"s":"orange","t":1640.75,"v":63},{"s":"orange","t":1640.9,"v":64},{"s":"orange","t":1641.05,"v":63},{"s":"orange","t":1641.2,"v":61},{"s":"orange","t":1641.35,"v":56},{"s":"orange","t":1641.5,"v":52},{"s":"orange","t":1641.7,"v":49},{"s":"orange","t":1641.9,"v":47},{"s":"orange","t":1642.15,"v":45},{"s":"orange","t":1642.3,"v":46},{"s":"orange","t":1642.45,"v":47},{"s":"orange","t":1642.6,"v":44},{"s":"orange","t":1642.75,"v":42},{"s":"orange","t":1642.9,"v":40},{"s":"orange","t":1643,"v":37.6},{"s":"orange","t":1643.15,"v":38},{"s":"orange","t":1643.3,"v":36},{"s":"orange","t":1643.45,"v":33},{"s":"orange","t":1643.6,"v":31},{"s":"orange","t":1643.8,"v":29},{"s":"orange","t":1644,"v":27},{"s":"orange","t":1644.2,"v":25},{"s":"orange","t":1644.35,"v":23.5},{"s":"orange","t":1644.55,"v":21},{"s":"orange","t":1644.75,"v":19},{"s":"orange","t":1644.95,"v":17},{"s":"orange","t":1645.1,"v":15.7},{"s":"orange","t":1645.3,"v":12},{"s":"orange","t":1645.5,"v":11},{"s":"orange","t":1645.75,"v":10},{"s":"orange","t":1646,"v":9},{"s":"orange","t":1646.3,"v":8},{"s":"orange","t":1646.7,"v":7},{"s":"orange","t":1646.8,"v":5},{"s":"orange","t":1647,"v":4},{"s":"orange","t":1647.15,"v":3},{"s":"orange","t":1647.3,"v":4},{"s":"orange","t":1647.55,"v":3},{"s":"orange","t":1647.6,"v":2},{"s":"orange","t":1648.1,"v":2},{"s":"orange","t":1648.2,"v":3},{"s":"orange","t":1648.35,"v":2},{"s":"orange","t":1648.95,"v":1},{"s":"orange","t":1649.05,"v":0},{"s":"orange","t":1657.2,"v":0},{"s":"orange","t":1657.25,"v":3},{"s":"orange","t":1657.35,"v":6},{"s":"orange","t":1657.45,"v":10},{"s":"orange","t":1657.55,"v":16},{"s":"orange","t":1657.65,"v":22},{"s":"orange","t":1657.75,"v":29},{"s":"orange","t":1657.85,"v":38},{"s":"orange","t":1657.95,"v":47.6},{"s":"orange","t":1658.05,"v":55},{"s":"orange","t":1658.15,"v":63},{"s":"orange","t":1658.25,"v":67},{"s":"orange","t":1658.35,"v":71},{"s":"orange","t":1658.5,"v":80},{"s":"orange","t":1658.6,"v":85},{"s":"orange","t":1658.7,"v":91},{"s":"orange","t":1658.8,"v":96},{"s":"orange","t":1658.9,"v":100.6},{"s":"orange","t":1659,"v":108},{"s":"orange","t":1659.1,"v":114.7},{"s":"orange","t":1659.2,"v":110},{"s":"orange","t":1659.3,"v":105},{"s":"orange","t":1659.45,"v":110},{"s":"orange","t":1659.6,"v":113},{"s":"orange","t":1659.7,"v":118},{"s":"orange","t":1659.8,"v":125.6},{"s":"orange","t":1659.9,"v":131},{"s":"orange","t":1660,"v":136.5},{"s":"orange","t":1660.2,"v":141},{"s":"orange","t":1660.3,"v":140},{"s":"orange","t":1660.45,"v":147},{"s":"orange","t":1660.6,"v":152},{"s":"orange","t":1660.75,"v":157},{"s":"orange","t":1660.85,"v":155},{"s":"orange","t":1660.95,"v":150.5},{"s":"orange","t":1661.05,"v":156},{"s":"orange","t":1661.15,"v":163},{"s":"orange","t":1661.25,"v":155},{"s":"orange","t":1661.35,"v":144},{"s":"orange","t":1661.5,"v":152},{"s":"orange","t":1661.65,"v":160},{"s":"orange","t":1661.75,"v":157},{"s":"orange","t":1661.85,"v":154},{"s":"orange","t":1662,"v":163},{"s":"orange","t":1662.1,"v":160},{"s":"orange","t":1662.25,"v":167.7},{"s":"orange","t":1662.35,"v":162},{"s":"orange","t":1662.4,"v":158},{"s":"orange","t":1662.5,"v":161},{"s":"orange","t":1662.6,"v":157},{"s":"orange","t":1662.75,"v":150},{"s":"orange","t":1662.9,"v":144},{"s":"orange","t":1663.05,"v":140},{"s":"orange","t":1663.2,"v":135},{"s":"orange","t":1663.35,"v":131},{"s":"orange","t":1663.5,"v":125.6},{"s":"orange","t":1663.65,"v":120},{"s":"orange","t":1663.8,"v":113},{"s":"orange","t":1663.95,"v":108},{"s":"orange","t":1664.05,"v":105},{"s":"orange","t":1664.2,"v":99},{"s":"orange","t":1664.35,"v":94},{"s":"orange","t":1664.5,"v":86},{"s":"orange","t":1664.65,"v":78.8},{"s":"orange","t":1664.8,"v":73},{"s":"orange","t":1664.95,"v":68},{"s":"orange","t":1665.1,"v":65},{"s":"orange","t":1665.25,"v":61.6},{"s":"orange","t":1665.4,"v":57},{"s":"orange","t":1665.55,"v":55},{"s":"orange","t":1665.7,"v":52},{"s":"orange","t":1665.9,"v":49},{"s":"orange","t":1666.1,"v":47},{"s":"orange","t":1666.3,"v":44.5},{"s":"orange","t":1666.5,"v":42},{"s":"orange","t":1666.7,"v":38},{"s":"orange","t":1666.85,"v":34},{"s":"orange","t":1667,"v":30.4},{"s":"orange","t":1667.15,"v":28},{"s":"orange","t":1667.3,"v":26},{"s":"orange","t":1667.5,"v":23},{"s":"orange","t":1667.65,"v":21},{"s":"orange","t":1667.85,"v":21},{"s":"orange","t":1668.05,"v":22},{"s":"orange","t":1668.25,"v":21},{"s":"orange","t":1668.45,"v":19.5},{"s":"orange","t":1668.65,"v":18},{"s":"orange","t":1668.85,"v":16.4},{"s":"orange","t":1669,"v":13},{"s":"orange","t":1669.2,"v":10},{"s":"orange","t":1669.4,"v":11},{"s":"orange","t":1669.6,"v":9.4},{"s":"orange","t":1669.8,"v":9},{"s":"orange","t":1670,"v":10},{"s":"orange","t":1670.2,"v":9},{"s":"orange","t":1670.4,"v":8.6},{"s":"orange","t":1670.6,"v":10},{"s":"orange","t":1670.8,"v":9.4},{"s":"orange","t":1671,"v":8},{"s":"orange","t":1671.15,"v":7},{"s":"orange","t":1671.35,"v":5},{"s":"orange","t":1671.55,"v":4},{"s":"orange","t":1671.75,"v":3},{"s":"orange","t":1671.95,"v":3},{"s":"orange","t":1672.15,"v":3},{"s":"orange","t":1672.35,"v":4},{"s":"orange","t":1672.5,"v":6},{"s":"orange","t":1672.6,"v":7},{"s":"orange","t":1672.8,"v":8},{"s":"orange","t":1673,"v":10},{"s":"orange","t":1673.15,"v":11},{"s":"orange","t":1673.3,"v":13},{"s":"orange","t":1673.45,"v":17},{"s":"orange","t":1673.6,"v":21},{"s":"orange","t":1673.75,"v":26},{"s":"orange","t":1673.9,"v":32},{"s":"orange","t":1674.05,"v":35},{"s":"orange","t":1674.2,"v":38},{"s":"orange","t":1674.35,"v":41},{"s":"orange","t":1674.5,"v":44.5},{"s":"orange","t":1674.65,"v":50},{"s":"orange","t":1674.75,"v":54},{"s":"orange","t":1674.9,"v":58},{"s":"orange","t":1675.05,"v":63},{"s":"orange","t":1675.2,"v":66},{"s":"orange","t":1675.35,"v":69},{"s":"orange","t":1675.5,"v":74},{"s":"orange","t":1675.65,"v":78.8},{"s":"orange","t":1675.8,"v":86},{"s":"orange","t":1675.9,"v":91},{"s":"orange","t":1676,"v":95},{"s":"orange","t":1676.1,"v":99},{"s":"orange","t":1676.2,"v":101},{"s":"orange","t":1676.3,"v":103},{"s":"orange","t":1676.45,"v":100},{"s":"orange","t":1676.6,"v":97.5},{"s":"orange","t":1676.8,"v":94},{"s":"orange","t":1677,"v":91},{"s":"orange","t":1677.2,"v":89},{"s":"orange","t":1677.4,"v":90},{"s":"orange","t":1677.5,"v":93},{"s":"orange","t":1677.6,"v":92},{"s":"orange","t":1677.75,"v":89},{"s":"orange","t":1677.9,"v":86.6},{"s":"orange","t":1678.05,"v":85},{"s":"orange","t":1678.2,"v":83.5},{"s":"orange","t":1678.35,"v":82},{"s":"orange","t":1678.45,"v":80},{"s":"orange","t":1678.6,"v":75},{"s":"orange","t":1678.75,"v":72.5},{"s":"orange","t":1678.95,"v":72},{"s":"orange","t":1679.15,"v":71},{"s":"orange","t":1679.3,"v":70},{"s":"orange","t":1679.5,"v":68},{"s":"orange","t":1679.65,"v":64},{"s":"orange","t":1679.8,"v":58.5},{"s":"orange","t":1679.9,"v":54},{"s":"orange","t":1680,"v":49}
  ],
  "zoom": [
{"s":"orange","t":1645.9,"v":9},{"s":"orange","t":1646,"v":8},{"s":"orange","t":1646.35,"v":7},{"s":"orange","t":1646.74,"v":6},{"s":"orange","t":1646.76,"v":5},{"s":"orange","t":1647.01,"v":4},{"s":"orange","t":1647.08,"v":3},{"s":"orange","t":1647.25,"v":4},{"s":"orange","t":1647.54,"v":3},{"s":"orange","t":1647.58,"v":2},{"s":"orange","t":1648.14,"v":3},{"s":"orange","t":1648.31,"v":2},{"s":"orange","t":1648.96,"v":1},{"s":"orange","t":1649.01,"v":0},{"s":"orange","t":1657.21,"v":1},{"s":"orange","t":1657.22,"v":2},{"s":"orange","t":1657.24,"v":3},{"s":"orange","t":1657.26,"v":4},{"s":"orange","t":1657.3,"v":5},{"s":"orange","t":1657.33,"v":6},{"s":"orange","t":1657.36,"v":7},{"s":"orange","t":1657.4,"v":8},{"s":"orange","t":1657.43,"v":9},{"s":"orange","t":1657.46,"v":10},{"s":"orange","t":1657.5,"v":12},{"s":"orange","t":1657.6,"v":16},
{"s":"red","t":1648.8,"v":12},{"s":"red","t":1648.89,"v":10},{"s":"red","t":1648.92,"v":9},{"s":"red","t":1648.96,"v":8},{"s":"red","t":1649.33,"v":7},{"s":"red","t":1650.72,"v":8},{"s":"red","t":1650.79,"v":7},{"s":"red","t":1651.19,"v":6},{"s":"red","t":1651.47,"v":5},{"s":"red","t":1651.54,"v":4},{"s":"red","t":1651.68,"v":3},{"s":"red","t":1652.01,"v":2},{"s":"red","t":1652.08,"v":1},{"s":"red","t":1652.4,"v":2},{"s":"red","t":1653.03,"v":1},{"s":"red","t":1653.61,"v":2},{"s":"red","t":1654.76,"v":1},{"s":"red","t":1655.45,"v":2},{"s":"red","t":1657.21,"v":1},{"s":"red","t":1657.33,"v":2},{"s":"red","t":1658.21,"v":1},{"s":"red","t":1659.56,"v":0},{"s":"red","t":1661.06,"v":1},{"s":"red","t":1661.16,"v":0},{"s":"red","t":1661.98,"v":1},{"s":"red","t":1662.11,"v":2},{"s":"red","t":1662.25,"v":3},{"s":"red","t":1662.28,"v":4},{"s":"red","t":1662.43,"v":5},{"s":"red","t":1662.55,"v":6},{"s":"red","t":1662.61,"v":7},{"s":"red","t":1662.63,"v":8},{"s":"red","t":1662.67,"v":9},{"s":"red","t":1662.71,"v":10},{"s":"red","t":1662.73,"v":9},{"s":"red","t":1662.75,"v":10},{"s":"red","t":1662.77,"v":11},{"s":"red","t":1662.8,"v":13},
{"s":"blue","t":1653.6,"v":12},{"s":"blue","t":1653.71,"v":10},{"s":"blue","t":1653.83,"v":9},{"s":"blue","t":1653.89,"v":8},{"s":"blue","t":1654.39,"v":7},{"s":"blue","t":1654.56,"v":8},{"s":"blue","t":1654.66,"v":9},{"s":"blue","t":1654.91,"v":8},{"s":"blue","t":1654.94,"v":7},{"s":"blue","t":1655.36,"v":6},{"s":"blue","t":1655.39,"v":7},{"s":"blue","t":1655.42,"v":6},{"s":"blue","t":1655.44,"v":7},{"s":"blue","t":1655.53,"v":6},{"s":"blue","t":1655.64,"v":5},{"s":"blue","t":1655.72,"v":6},{"s":"blue","t":1656.67,"v":5},{"s":"blue","t":1656.78,"v":6},{"s":"blue","t":1657.03,"v":7},{"s":"blue","t":1657.17,"v":6},{"s":"blue","t":1657.59,"v":5},{"s":"blue","t":1658.21,"v":6},{"s":"blue","t":1658.25,"v":7},{"s":"blue","t":1658.35,"v":6},{"s":"blue","t":1658.46,"v":7},{"s":"blue","t":1658.63,"v":6},{"s":"blue","t":1659.17,"v":5},{"s":"blue","t":1659.47,"v":4},{"s":"blue","t":1659.6,"v":5},{"s":"blue","t":1659.89,"v":4},{"s":"blue","t":1660.31,"v":6},{"s":"blue","t":1660.79,"v":7},{"s":"blue","t":1661.17,"v":5},{"s":"blue","t":1662.01,"v":6},{"s":"blue","t":1662.11,"v":4},{"s":"blue","t":1662.49,"v":3},{"s":"blue","t":1662.61,"v":4},{"s":"blue","t":1662.71,"v":5},{"s":"blue","t":1663.09,"v":4},{"s":"blue","t":1663.4,"v":6},{"s":"blue","t":1663.71,"v":7},{"s":"blue","t":1663.87,"v":8},{"s":"blue","t":1663.98,"v":7},{"s":"blue","t":1664.4,"v":8},{"s":"blue","t":1664.5,"v":7},{"s":"blue","t":1664.53,"v":8},{"s":"blue","t":1664.92,"v":7},{"s":"blue","t":1664.98,"v":6},{"s":"blue","t":1665.25,"v":7},{"s":"blue","t":1665.73,"v":8},{"s":"blue","t":1665.75,"v":9},{"s":"blue","t":1665.8,"v":8},{"s":"blue","t":1665.83,"v":9},{"s":"blue","t":1665.9,"v":8},{"s":"blue","t":1665.93,"v":9},{"s":"blue","t":1666.04,"v":7},{"s":"blue","t":1666.2,"v":8},{"s":"blue","t":1666.23,"v":9},{"s":"blue","t":1666.29,"v":10},{"s":"blue","t":1666.43,"v":11},
{"s":"green","t":1664.8,"v":11},{"s":"green","t":1664.88,"v":10},{"s":"green","t":1665.19,"v":11},{"s":"green","t":1666.9,"v":11},{"s":"green","t":1666.97,"v":10},{"s":"green","t":1666.98,"v":9},{"s":"green","t":1667.1,"v":9}
  ],
  "spikes": [
{"t":1630.5,"v":2},{"t":1631.2,"v":2},{"t":1632.0,"v":2},{"t":1632.6,"v":2},{"t":1633.4,"v":2},{"t":1634.1,"v":2},{"t":1634.7,"v":2},{"t":1635.3,"v":2},{"t":1635.8,"v":2},{"t":1636.4,"v":2},{"t":1637.0,"v":2},{"t":1637.4,"v":2},{"t":1637.9,"v":3},{"t":1638.3,"v":2},{"t":1638.6,"v":2},{"t":1639.1,"v":2},{"t":1639.4,"v":2},{"t":1640.1,"v":3},{"t":1640.5,"v":2},{"t":1641.0,"v":2},{"t":1641.6,"v":2},{"t":1642.3,"v":2},{"t":1642.8,"v":2},{"t":1643.5,"v":2},{"t":1644.0,"v":2},{"t":1644.6,"v":2},{"t":1645.2,"v":2},{"t":1645.8,"v":2},
{"t":1646.0,"v":2},{"t":1646.7,"v":2},{"t":1646.76,"v":2},{"t":1646.81,"v":2},{"t":1646.86,"v":2},{"t":1646.92,"v":2},{"t":1646.97,"v":2},{"t":1647.04,"v":2},{"t":1647.09,"v":2},{"t":1647.24,"v":2},{"t":1647.28,"v":2},{"t":1647.36,"v":2},{"t":1647.64,"v":2},{"t":1647.91,"v":2},{"t":1648.0,"v":3},{"t":1648.23,"v":2},{"t":1648.67,"v":2},{"t":1648.73,"v":2},{"t":1649.05,"v":3},{"t":1649.09,"v":2},{"t":1649.29,"v":3},{"t":1649.35,"v":2},{"t":1649.43,"v":3},{"t":1649.51,"v":2},{"t":1649.56,"v":2},{"t":1649.71,"v":2},{"t":1649.79,"v":2},{"t":1649.96,"v":3},{"t":1650.02,"v":2},{"t":1650.14,"v":3},{"t":1650.22,"v":2},{"t":1650.3,"v":2},{"t":1650.34,"v":2},{"t":1650.38,"v":2},{"t":1650.42,"v":2},{"t":1650.46,"v":2},{"t":1650.5,"v":2},{"t":1650.54,"v":2},{"t":1650.58,"v":2},{"t":1650.62,"v":2},{"t":1650.66,"v":2},{"t":1650.72,"v":3},{"t":1650.78,"v":2},{"t":1650.86,"v":2},{"t":1650.92,"v":2},{"t":1651.06,"v":3},{"t":1651.11,"v":2},{"t":1651.18,"v":2},{"t":1651.23,"v":2},{"t":1651.3,"v":3},{"t":1651.38,"v":2},{"t":1651.5,"v":2},{"t":1651.56,"v":2},{"t":1651.63,"v":2},{"t":1651.74,"v":3},{"t":1651.78,"v":2},{"t":1651.82,"v":2},{"t":1651.86,"v":2},{"t":1651.9,"v":2},{"t":1651.94,"v":2},{"t":1652.09,"v":2},{"t":1652.16,"v":2},{"t":1652.21,"v":2},{"t":1652.43,"v":3},{"t":1652.53,"v":2},{"t":1652.57,"v":2},{"t":1652.61,"v":2},{"t":1652.65,"v":2},{"t":1652.69,"v":2},{"t":1652.73,"v":2},{"t":1652.77,"v":2},{"t":1652.81,"v":2},{"t":1652.85,"v":2},{"t":1652.89,"v":2},{"t":1652.95,"v":4},{"t":1653.01,"v":2},{"t":1653.05,"v":2},{"t":1653.13,"v":2},{"t":1653.17,"v":2},{"t":1653.21,"v":2},{"t":1653.25,"v":4},{"t":1653.29,"v":3},{"t":1653.33,"v":2},{"t":1653.37,"v":2},{"t":1653.41,"v":2},{"t":1653.45,"v":3},{"t":1653.5,"v":3},{"t":1653.53,"v":2},{"t":1653.57,"v":3},{"t":1653.62,"v":5},{"t":1653.66,"v":2},{"t":1653.69,"v":3},{"t":1653.74,"v":6},{"t":1653.79,"v":4},{"t":1653.85,"v":4},{"t":1653.89,"v":2},{"t":1653.93,"v":3},{"t":1653.97,"v":2},{"t":1654.0,"v":3},{"t":1654.04,"v":2},{"t":1654.07,"v":2},{"t":1654.11,"v":2},{"t":1654.16,"v":4},{"t":1654.2,"v":2},{"t":1654.24,"v":3},{"t":1654.28,"v":2},{"t":1654.32,"v":2},{"t":1654.36,"v":2},{"t":1654.4,"v":3},{"t":1654.46,"v":3},{"t":1654.51,"v":3},{"t":1654.56,"v":4},{"t":1654.62,"v":3},{"t":1654.68,"v":3},{"t":1654.7,"v":2},{"t":1654.74,"v":3},{"t":1654.78,"v":2},{"t":1654.84,"v":2},{"t":1654.88,"v":2},{"t":1654.92,"v":3},{"t":1654.96,"v":2},{"t":1655.0,"v":2},{"t":1655.04,"v":2},{"t":1655.08,"v":2},{"t":1655.12,"v":2},{"t":1655.16,"v":2},{"t":1655.2,"v":2},{"t":1655.24,"v":3},{"t":1655.28,"v":2},{"t":1655.32,"v":2},{"t":1655.38,"v":4},{"t":1655.42,"v":2},{"t":1655.45,"v":2},{"t":1655.49,"v":2},{"t":1655.52,"v":3},{"t":1655.56,"v":2},{"t":1655.6,"v":2},{"t":1655.64,"v":2},{"t":1655.7,"v":5},{"t":1655.73,"v":4},{"t":1655.76,"v":2},{"t":1655.8,"v":3},{"t":1655.85,"v":2},{"t":1655.9,"v":2},{"t":1655.95,"v":3},{"t":1656.0,"v":2},{"t":1656.05,"v":3},{"t":1656.1,"v":2},{"t":1656.14,"v":2},{"t":1656.18,"v":3},{"t":1656.24,"v":3},{"t":1656.28,"v":2},{"t":1656.32,"v":3},{"t":1656.36,"v":2},{"t":1656.38,"v":4},{"t":1656.41,"v":5},{"t":1656.46,"v":4},{"t":1656.5,"v":5},{"t":1656.55,"v":3},{"t":1656.58,"v":2},{"t":1656.61,"v":3},{"t":1656.67,"v":3},{"t":1656.7,"v":2},{"t":1656.74,"v":2},{"t":1656.78,"v":2},{"t":1656.82,"v":4},{"t":1656.86,"v":2},{"t":1656.9,"v":2},{"t":1656.95,"v":2},{"t":1657.01,"v":3},{"t":1657.05,"v":2},{"t":1657.08,"v":3},{"t":1657.13,"v":3},{"t":1657.18,"v":2},{"t":1657.23,"v":2},{"t":1657.28,"v":3},{"t":1657.34,"v":2},{"t":1657.4,"v":2},{"t":1657.44,"v":2},{"t":1657.48,"v":2},{"t":1657.53,"v":2},{"t":1657.59,"v":2},{"t":1657.65,"v":2},{"t":1657.71,"v":2},{"t":1657.77,"v":2},{"t":1657.82,"v":2},{"t":1657.86,"v":2},{"t":1657.9,"v":2},{"t":1657.94,"v":2},{"t":1657.98,"v":2},{"t":1658.02,"v":2},{"t":1658.06,"v":2},{"t":1658.1,"v":2},{"t":1658.15,"v":2},{"t":1658.2,"v":2},{"t":1658.25,"v":2},{"t":1658.29,"v":2},{"t":1658.33,"v":2},{"t":1658.39,"v":2},{"t":1658.48,"v":2},{"t":1658.57,"v":3},{"t":1658.67,"v":2},{"t":1658.8,"v":2},{"t":1659.44,"v":2},{"t":1659.5,"v":2},{"t":1659.56,"v":2},{"t":1659.71,"v":2},{"t":1659.79,"v":2},{"t":1659.95,"v":2},{"t":1660.14,"v":2},{"t":1660.25,"v":2},{"t":1660.55,"v":2},{"t":1660.58,"v":3},{"t":1660.64,"v":2},{"t":1660.79,"v":2},{"t":1660.96,"v":2},{"t":1661.03,"v":2},{"t":1661.1,"v":2},{"t":1661.26,"v":2},{"t":1661.41,"v":2},{"t":1661.6,"v":3},{"t":1661.76,"v":2},{"t":1661.89,"v":3},{"t":1661.97,"v":2},{"t":1662.11,"v":2},{"t":1662.28,"v":2},{"t":1662.35,"v":2},{"t":1662.43,"v":2},{"t":1662.49,"v":2},{"t":1662.55,"v":2},{"t":1662.61,"v":2},{"t":1662.76,"v":2},{"t":1662.84,"v":2},{"t":1662.99,"v":2},{"t":1663.15,"v":2},{"t":1663.4,"v":2},{"t":1663.46,"v":2},{"t":1663.53,"v":2},{"t":1663.59,"v":2},{"t":1663.65,"v":2},{"t":1663.82,"v":2},{"t":1663.9,"v":2},{"t":1664.0,"v":2},{"t":1664.11,"v":3},{"t":1664.19,"v":2},{"t":1664.42,"v":2},{"t":1664.48,"v":2},{"t":1664.58,"v":2},{"t":1664.81,"v":2},{"t":1665.0,"v":2},{"t":1665.13,"v":2},{"t":1665.21,"v":2},{"t":1665.36,"v":2},{"t":1665.69,"v":2},{"t":1665.85,"v":2},{"t":1666.12,"v":2},{"t":1666.35,"v":2},{"t":1666.66,"v":3},{"t":1666.72,"v":3},{"t":1666.79,"v":2},{"t":1666.85,"v":2},{"t":1666.93,"v":2},
{"t":1667.5,"v":2},{"t":1668.1,"v":2},{"t":1668.6,"v":2},{"t":1669.2,"v":2},{"t":1669.7,"v":2},{"t":1670.3,"v":2},{"t":1670.9,"v":2},{"t":1671.5,"v":2},{"t":1672.1,"v":2},{"t":1672.6,"v":2},{"t":1673.2,"v":2},{"t":1673.8,"v":2},{"t":1674.3,"v":2},{"t":1674.9,"v":2},{"t":1675.5,"v":2},{"t":1676.0,"v":2},{"t":1676.6,"v":2},{"t":1677.1,"v":2},{"t":1677.7,"v":2},{"t":1678.3,"v":2},{"t":1678.8,"v":2},{"t":1679.4,"v":2}
  ]
},
"columns": 1,
"spacing": 16,
"concat": [
  {
    "width": 1782,
    "height": 1077,
    "view": {"stroke": null},
    "layer": [
      {
        "data": {"name": "xgrid"},
        "mark": {"type": "rule", "color": "#c4c4c4", "strokeWidth": 2},
        "encoding": {
          "x": {"field": "g", "type": "quantitative", "scale": {"domain": [1629.027, 1680], "nice": false, "zero": false}, "axis": {"title": "time", "values": [1630, 1640, 1650, 1660, 1670, 1680], "format": "d", "grid": false, "labelPadding": 33, "titlePadding": 25, "titleX": 908}},
          "y": {"datum": 0, "type": "quantitative", "scale": {"domain": [0, 230], "nice": false}, "axis": {"title": "number of particles", "values": [0, 50, 100, 150, 200], "format": "d", "grid": false, "offset": -34}},
          "y2": {"datum": 230}
        }
      },
      {
        "data": {"name": "ygrid"},
        "mark": {"type": "rule", "color": "#d4d4d4", "strokeWidth": 1.5},
        "encoding": {
          "y": {"field": "g", "type": "quantitative"},
          "x": {"datum": 1630, "type": "quantitative"},
          "x2": {"datum": 1680}
        }
      },
      {
        "data": {"values": [{}]},
        "mark": {"type": "rule", "color": "#000000", "strokeWidth": 2.5},
        "encoding": {
          "y": {"datum": 230, "type": "quantitative"},
          "x": {"datum": 1630, "type": "quantitative"},
          "x2": {"datum": 1680}
        }
      },
      {
        "data": {"values": [{}]},
        "mark": {"type": "rule", "color": "#000000", "strokeWidth": 2.5},
        "encoding": {
          "x": {"datum": 1680, "type": "quantitative"},
          "y": {"datum": 0, "type": "quantitative"},
          "y2": {"datum": 230}
        }
      },
      {
        "data": {"name": "base"},
        "mark": {"type": "area", "color": "#000000", "stroke": "#000000", "strokeWidth": 7},
        "encoding": {
          "x": {"field": "t", "type": "quantitative"},
          "y": {"field": "v", "type": "quantitative"}
        }
      },
      {
        "data": {"name": "spikes"},
        "mark": {"type": "rule", "color": "#000000", "strokeWidth": 3, "clip": true},
        "encoding": {
          "x": {"field": "t", "type": "quantitative"},
          "y": {"field": "v", "type": "quantitative"},
          "y2": {"datum": 0}
        }
      },
      {
        "data": {"name": "top"},
        "mark": {"type": "line", "strokeWidth": 6, "clip": true},
        "encoding": {
          "x": {"field": "t", "type": "quantitative"},
          "y": {"field": "v", "type": "quantitative"},
          "color": {"field": "s", "type": "nominal", "scale": {"domain": ["orange", "red", "green", "blue"], "range": ["#E5AF1F", "#FF0000", "#00FF00", "#3333CC"]}, "legend": null}
        }
      }
    ]
  },
  {
    "width": 1851,
    "height": 1142,
    "layer": [
      {
        "data": {"name": "base"},
        "mark": {"type": "area", "color": "#000000", "clip": true},
        "encoding": {
          "x": {"field": "t", "type": "quantitative", "scale": {"domain": [1646, 1667], "nice": false, "zero": false}, "axis": {"title": "time", "values": [1650, 1655, 1660, 1665], "format": "d", "gridColor": "#cfcfcf"}},
          "y": {"field": "v", "type": "quantitative", "scale": {"domain": [0, 10], "nice": false}, "axis": {"title": "number of particles", "values": [0, 2, 4, 6, 8, 10], "format": "d", "gridColor": "#d6d6d6"}}
        }
      },
      {
        "data": {"name": "spikes"},
        "mark": {"type": "rule", "color": "#000000", "strokeWidth": 4, "clip": true},
        "encoding": {
          "x": {"field": "t", "type": "quantitative"},
          "y": {"field": "v", "type": "quantitative"},
          "y2": {"datum": 0}
        }
      },
      {
        "data": {"name": "zoom"},
        "mark": {"type": "line", "strokeWidth": 4.5, "interpolate": "step-after", "clip": true},
        "encoding": {
          "x": {"field": "t", "type": "quantitative"},
          "y": {"field": "v", "type": "quantitative"},
          "color": {"field": "s", "type": "nominal", "scale": {"domain": ["orange", "red", "green", "blue"], "range": ["#E5AF1F", "#FF0000", "#00FF00", "#3333CC"]}, "legend": null}
        }
      }
    ]
  }
]
}
